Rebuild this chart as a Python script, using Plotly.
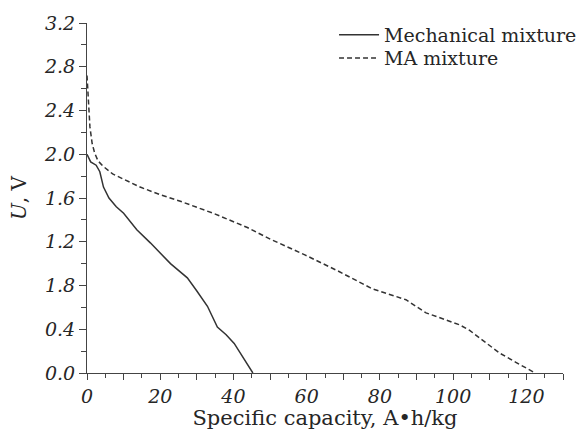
import plotly.graph_objects as go

# Mechanical mixture (solid)
mech_x = [0, 1.0, 2.5, 3.5, 4.5, 6.0, 8.0, 10.0, 13.6, 17.3, 22.8, 27.4, 30.0, 32.9, 35.6, 38.0, 40.2, 43.0, 45.3]
mech_u = [2.00, 1.93, 1.90, 1.84, 1.70, 1.60, 1.52, 1.46, 1.31, 1.19, 1.00, 0.87, 0.75, 0.61, 0.42, 0.35, 0.27, 0.12, 0.0]

# MA mixture (dashed)
ma_x = [0, 0.4, 0.8, 1.4, 2.1, 3.0, 4.4, 7.0, 9.0, 14.5, 20.0, 25.5, 34.5, 43.8, 50.3, 59.5, 68.7, 77.9, 87.1, 92.6, 101.8, 104.5, 108.0, 112.8, 117.0, 122.4]
ma_u = [2.72, 2.45, 2.25, 2.10, 2.01, 1.94, 1.89, 1.82, 1.79, 1.70, 1.63, 1.57, 1.46, 1.33, 1.22, 1.08, 0.93, 0.77, 0.67, 0.55, 0.44, 0.39, 0.30, 0.18, 0.10, 0.0]

x_tickvals = [0, 10, 20, 30, 40, 50, 60, 70, 80, 90, 100, 110, 120, 130]
x_ticktext = ["0", "", "20", "", "40", "", "60", "", "80", "", "100", "", "120", ""]
y_tickvals = [0.0, 0.4, 0.8, 1.2, 1.6, 2.0, 2.4, 2.8, 3.2]
y_ticktext = ["0.0", "0.4", "1.8", "1.2", "1.6", "2.0", "2.4", "2.8", "3.2"]

FONT = "DejaVu Serif"
LINE_COLOR = "#333333"
AXIS_COLOR = "#444444"
TEXT_COLOR = "#262626"

fig = go.Figure()
fig.add_trace(go.Scatter(x=mech_x, y=mech_u, mode="lines", name="Mechanical mixture",
                         line=dict(color=LINE_COLOR, width=1.5), legend="legend"))
fig.add_trace(go.Scatter(x=ma_x, y=ma_u, mode="lines", name="MA mixture",
                         line=dict(color=LINE_COLOR, width=1.5, dash="5px,3px"), legend="legend2"))

legend_common = dict(xanchor="left", yanchor="top", bgcolor="rgba(0,0,0,0)",
                     font=dict(family=FONT, size=19, color=TEXT_COLOR), itemwidth=40)

fig.update_layout(
    width=579, height=430,
    margin=dict(l=87, r=16, t=23, b=57, autoexpand=False),
    plot_bgcolor="white", paper_bgcolor="white",
    font=dict(family=FONT, color=TEXT_COLOR, size=16),
    showlegend=True,
    legend=dict(x=0.519, y=1.02, **legend_common),
    legend2=dict(x=0.519, y=0.954, **legend_common),
    xaxis=dict(
        range=[0, 130], showgrid=False, zeroline=False, automargin=False,
        showline=True, linecolor=AXIS_COLOR, linewidth=1.2,
        ticks="outside", ticklen=6, tickcolor=AXIS_COLOR, tickwidth=1.2,
        tickvals=x_tickvals, ticktext=x_ticktext,
        tickfont=dict(family=FONT, size=19, style="italic", color=TEXT_COLOR),
        minor=dict(dtick=5, ticks="outside", ticklen=4, tickcolor=AXIS_COLOR, tickwidth=1.2),
        title=dict(text="Specific capacity, A•h/kg", font=dict(family=FONT, size=21, color=TEXT_COLOR), standoff=9),
    ),
    yaxis=dict(
        range=[0, 3.2], showgrid=False, zeroline=False, automargin=False,
        showline=True, linecolor=AXIS_COLOR, linewidth=1.2,
        ticks="outside", ticklen=7, tickcolor=AXIS_COLOR, tickwidth=1.2,
        tickvals=y_tickvals, ticktext=y_ticktext,
        tickfont=dict(family=FONT, size=19, style="italic", color=TEXT_COLOR),
        minor=dict(dtick=0.2, ticks="outside", ticklen=5, tickcolor=AXIS_COLOR, tickwidth=1.2),
        title=dict(text="<i>U</i>, V", font=dict(family=FONT, size=20, color=TEXT_COLOR), standoff=11),
    ),
)

fig.write_html("out.html")
